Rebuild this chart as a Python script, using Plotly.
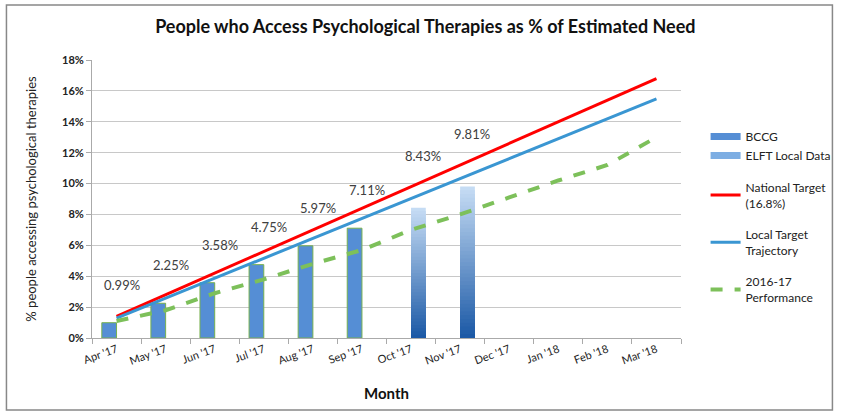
import plotly.graph_objects as go

months = ["Apr '17", "May '17", "Jun '17", "Jul '17", "Aug '17", "Sep '17",
          "Oct '17", "Nov '17", "Dec '17", "Jan '18", "Feb '18", "Mar '18"]
bccg = [0.99, 2.25, 3.58, 4.75, 5.97, 7.11, None, None, None, None, None, None]
elft = [None, None, None, None, None, None, 8.43, 9.81, None, None, None, None]
national_target = [1.4, 2.8, 4.2, 5.6, 7.0, 8.4, 9.8, 11.2, 12.6, 14.0, 15.4, 16.8]
local_target = [1.29, 2.58, 3.87, 5.16, 6.45, 7.74, 9.03, 10.32, 11.61, 12.9, 14.19, 15.48]
perf_2016_17 = [1.1, 1.8, 2.9, 3.8, 4.8, 5.7, 7.0, 8.0, 9.1, 10.2, 11.2, 13.0]

FONT = "Lato"
fig = go.Figure()

# legend-only entries (wide bar swatches like the original)
fig.add_trace(go.Scatter(x=[months[0]], y=[None], mode="lines", name="BCCG",
                         legendgroup="bars", line=dict(color="#558ED5", width=7),
                         hoverinfo="skip"))
fig.add_trace(go.Scatter(x=[months[0]], y=[None], mode="lines", name="ELFT Local Data",
                         legendgroup="bars", line=dict(color="#7DAEE3", width=7),
                         hoverinfo="skip"))

fig.add_trace(go.Bar(
    x=months, y=bccg, name="BCCG", offsetgroup="bccg", showlegend=False,
    marker=dict(color="#558ED5", line=dict(color="#77B04F", width=1)),
))

# ELFT bars drawn with a vertical gradient: overlapping bars of decreasing height
N = 40
top_rgb = (200, 222, 246)
bot_rgb = (26, 88, 165)
for k in range(N):
    frac = (N - k) / N
    t = (N - k - 0.5) / N
    r = int(bot_rgb[0] + (top_rgb[0] - bot_rgb[0]) * t)
    g = int(bot_rgb[1] + (top_rgb[1] - bot_rgb[1]) * t)
    b = int(bot_rgb[2] + (top_rgb[2] - bot_rgb[2]) * t)
    col = f"rgb({r},{g},{b})"
    seg = [None if v is None else v * frac for v in elft]
    fig.add_trace(go.Bar(
        x=months, y=seg, offsetgroup="elft", showlegend=False,
        name="ELFT Local Data",
        marker=dict(color=col, line=dict(width=0)),
        hoverinfo="skip",
    ))

fig.add_trace(go.Scatter(
    x=months, y=national_target, mode="lines", name="National Target<br>(16.8%)",
    legendgroup="g3", line=dict(color="#FF0000", width=3),
))
fig.add_trace(go.Scatter(
    x=months, y=local_target, mode="lines", name="Local Target<br>Trajectory",
    legendgroup="g4", line=dict(color="#3A96D2", width=3),
))
fig.add_trace(go.Scatter(
    x=months, y=perf_2016_17, mode="lines", name="2016-17<br>Performance",
    legendgroup="g5", line=dict(color="#7DC05A", width=4, dash="dash"),
))

annotations = []
for m, v in zip(months, bccg):
    if v is not None:
        annotations.append(dict(x=m, y=v, text=f"{v:.2f}%", showarrow=False,
                                xshift=5, yshift=38, yanchor="middle",
                                font=dict(family=FONT, size=13, color="#404040")))
for m, v in zip(months, elft):
    if v is not None:
        annotations.append(dict(x=m, y=v, text=f"{v:.2f}%", showarrow=False,
                                xshift=12, yshift=52, yanchor="middle",
                                font=dict(family=FONT, size=13, color="#404040")))

L, T, W, H = 92, 60, 599, 278
fig.update_layout(
    width=848, height=414,
    margin=dict(l=L, r=848 - L - W, t=T, b=414 - T - H),
    paper_bgcolor="white", plot_bgcolor="white",
    barmode="group", bargap=0.4, bargroupgap=0,
    font=dict(family=FONT, color="#222222"),
    title=dict(text="<b>People who Access Psychological Therapies as % of Estimated Need</b>",
               x=(431 - L) / W, xref="paper", xanchor="center", y=1 - 27 / 414, yanchor="middle",
               font=dict(family=FONT, size=18, color="#111111")),
    showlegend=True,
    legend=dict(x=(716 - L) / W, xanchor="left", y=(T + H - 122) / H, yanchor="top",
                font=dict(family=FONT, size=12, color="#222222"),
                entrywidth=80, entrywidthmode="pixels",
                tracegroupgap=13, bgcolor="rgba(0,0,0,0)"),
    annotations=annotations,
    shapes=[dict(type="rect", xref="paper", yref="paper",
                 x0=(5 - L) / W, x1=(845 - L) / W,
                 y0=(T + H - 410) / H, y1=(T + H - 5) / H,
                 line=dict(color="#888888", width=1.5), fillcolor="rgba(0,0,0,0)",
                 layer="below")],
)

fig.update_xaxes(
    type="category", tickangle=-20, tickson="boundaries", ticks="outside",
    ticklen=5, tickcolor="#AAAAAA", showline=True, linecolor="#AAAAAA",
    showgrid=False, tickfont=dict(family=FONT, size=11, color="#222222"),
    title=dict(text="<b>Month</b>", font=dict(family=FONT, size=15, color="#111111"), standoff=22),
)
fig.update_yaxes(
    range=[0, 18], dtick=2, ticksuffix="%", ticks="outside", ticklen=5,
    tickcolor="#AAAAAA", showline=True, linecolor="#AAAAAA",
    showgrid=True, gridcolor="#C8C8C8", zeroline=False,
    tickfont=dict(family=FONT, size=11, color="#222222", weight="bold"),
    title=dict(text="% people accessing psychological therapies",
               font=dict(family=FONT, size=13, color="#222222"), standoff=22),
)

fig.write_html("out.html", config={"displayModeBar": False},
               post_script="document.body.style.margin='0';")
